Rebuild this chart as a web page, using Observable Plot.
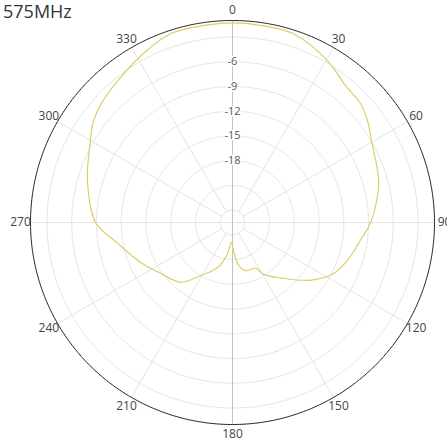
<!DOCTYPE html>
<html><head><meta charset="utf-8">
<script src="https://cdn.jsdelivr.net/npm/d3@7"></script>
<script src="https://cdn.jsdelivr.net/npm/@observablehq/plot@0.6"></script>
<style>
body{margin:0;background:#fff;font-family:"Open Sans",sans-serif;}
#wrap{position:relative;width:447px;height:438px;}
#title{position:absolute;left:3px;top:-1px;font-size:18px;color:#333;z-index:2;line-height:24px;}
</style></head><body>
<div id="wrap"><div id="title"></div></div>
<script>
const title = "575MHz";
const angles = [0, 8, 18, 30, 40, 47, 53, 60, 67, 74, 79, 90, 98, 108, 117, 127, 139, 149, 153, 160, 165, 172, 178, 183, 189, 198, 211, 221, 235, 246, 260, 270, 286, 300, 306, 313, 322, 332, 342, 353];
const gains = [-1.3, -1.35, -1.45, -2.7, -4.0, -4.3, -5.0, -6.0, -6.6, -7.05, -7.55, -8.75, -9.85, -10.8, -11.8, -13.85, -16.6, -18.2, -19.3, -19.4, -19.45, -20.3, -22.1, -23.1, -21.7, -19.8, -18.0, -15.9, -14.8, -13.4, -11.3, -8.9, -7.2, -5.6, -4.65, -3.95, -3.3, -2.35, -1.4, -1.35];
const ringValues = [-3, -6, -9, -12, -15, -18, -21, -24];
const ringLabels = [-6, -9, -12, -15, -18];
const angleTicks = [0, 30, 60, 90, 120, 150, 180, 210, 240, 270, 300, 330];
const dbMin = -25.5, dbMax = -1;

const R = 1; // angular radius of the plot disc (degrees on the sphere)
const rad = d3.scaleLinear([dbMin, dbMax], [0, R]);
const lat = v => 90 - rad(v);
const lon = a => 180 - a;
const circle = r => d3.geoCircle().center([0, 90]).radius(r).precision(0.5)();
const pattern = angles.map((a, i) => ({angle: a, gain: gains[i]}));
const labelLat = 90 - R * 212 / 202;

document.getElementById("title").textContent = title;

const chart = Plot.plot({
  width: 447,
  height: 438,
  marginLeft: 30,
  marginRight: 13,
  marginTop: 20,
  marginBottom: 14,
  style: {fontFamily: "Open Sans, sans-serif", background: "transparent", overflow: "visible"},
  projection: {type: "azimuthal-equidistant", rotate: [0, -90], domain: circle(R), clip: false},
  marks: [
    Plot.geo(ringValues, {geometry: v => circle(rad(v)), stroke: "#e4e4e4", strokeWidth: 1}),
    Plot.link(angleTicks.filter(a => a % 90 !== 0), {x1: a => lon(a), y1: () => lat(-24), x2: a => lon(a), y2: () => lat(dbMax), stroke: "#e4e4e4", strokeWidth: 1}),
    Plot.link([90, 270], {x1: a => lon(a), y1: () => 90, x2: a => lon(a), y2: () => lat(dbMax), stroke: "#e4e4e4", strokeWidth: 1}),
    Plot.link([0, 180], {x1: a => lon(a), y1: () => 90, x2: a => lon(a), y2: () => lat(dbMax), stroke: "#c2c2c2", strokeWidth: 1}),
    Plot.geo([R], {geometry: r => circle(r), stroke: "#1e1e1e", strokeWidth: 1}),
    Plot.line(pattern, {x: d => lon(d.angle), y: d => lat(d.gain), curve: "catmull-rom-closed", stroke: "#dccd6c", strokeWidth: 1.2}),
    Plot.text(ringLabels, {x: () => 180, y: v => lat(v), text: v => String(v), fill: "#555", stroke: "white", strokeWidth: 3, fontSize: 11}),
    Plot.text(angleTicks, {x: a => lon(a), y: () => labelLat, text: a => String(a), fill: "#444", fontSize: 12})
  ]
});
document.getElementById("wrap").appendChild(chart);
</script>
</body></html>
